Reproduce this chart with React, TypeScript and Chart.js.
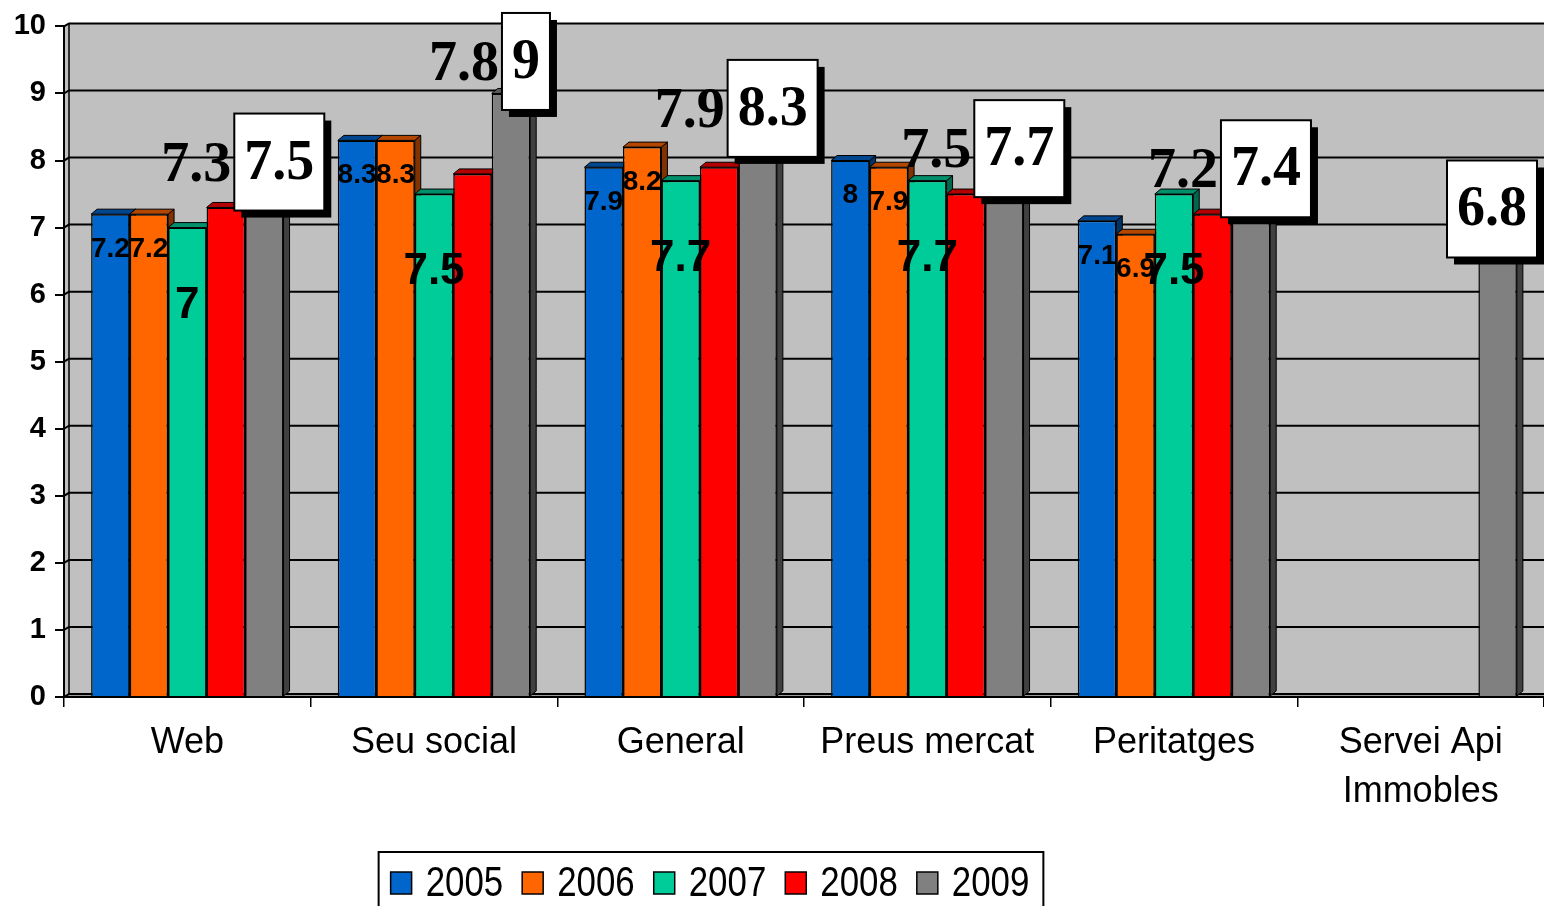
import React, { useEffect, useRef } from "react";
import { Chart, registerables } from "chart.js";

Chart.register(...registerables);

// ---------- data ----------
const categories: (string | string[])[] = [
  "Web",
  "Seu social",
  "General",
  "Preus mercat",
  "Peritatges",
  ["Servei Api", "Immobles"],
];
const years = ["2005", "2006", "2007", "2008", "2009"];
const values2005 = [7.2, 8.3, 7.9, 8, 7.1, null];
const values2006 = [7.2, 8.3, 8.2, 7.9, 6.9, null];
const values2007 = [7, 7.5, 7.7, 7.7, 7.5, null];
const values2008 = [7.3, 7.8, 7.9, 7.5, 7.2, null];
const values2009 = [7.5, 9, 8.3, 7.7, 7.4, 6.8];
const yMin = 0;
const yMax = 10;
const yStep = 1;

// ---------- styles ----------
const colors = ["#0066CC", "#FF6600", "#00CC99", "#FF0000", "#808080"];
const W = 1544;
const H = 906;
const SANS = "'Liberation Sans', Arial, sans-serif";
const SERIF = "'Liberation Serif', 'Times New Roman', serif";
const LEGEND_FONT = "42px 'Liberation Sans', Arial, sans-serif";
const LEGEND_SX = 0.83;
const BAR_DX = 6;
const BAR_DY = 5;
const WALL_DX = 5;
const WALL_DY = 3;

function shade(hex: string, f: number) {
  const n = parseInt(hex.slice(1), 16);
  const r = Math.round(((n >> 16) & 255) * f);
  const g = Math.round(((n >> 8) & 255) * f);
  const b = Math.round((n & 255) * f);
  return `rgb(${r},${g},${b})`;
}

const wallPlugin = {
  id: "wall3d",
  beforeDraw(chart: any) {
    const { ctx, chartArea } = chart;
    const { left, right, top, bottom } = chartArea;
    const ys = chart.scales.y;
    ctx.save();
    ctx.fillStyle = "#C0C0C0";
    ctx.beginPath();
    ctx.moveTo(left, bottom);
    ctx.lineTo(left, top);
    ctx.lineTo(left + WALL_DX, top - WALL_DY);
    ctx.lineTo(right, top - WALL_DY);
    ctx.lineTo(right, bottom);
    ctx.closePath();
    ctx.fill();
    // floor
    ctx.fillStyle = "#9a9a9a";
    ctx.beginPath();
    ctx.moveTo(left, bottom);
    ctx.lineTo(left + WALL_DX, bottom - WALL_DY);
    ctx.lineTo(right, bottom - WALL_DY);
    ctx.lineTo(right, bottom);
    ctx.closePath();
    ctx.fill();
    // grid lines on back wall
    ctx.strokeStyle = "#000";
    ctx.lineWidth = 2;
    ys.ticks.forEach((t: any) => {
      const y = ys.getPixelForValue(t.value);
      ctx.beginPath();
      ctx.moveTo(left, y);
      ctx.lineTo(left + WALL_DX, y - WALL_DY);
      ctx.lineTo(right, y - WALL_DY);
      ctx.stroke();
    });
    // wall edge
    ctx.lineWidth = 1.5;
    ctx.beginPath();
    ctx.moveTo(left + WALL_DX, top - WALL_DY);
    ctx.lineTo(left + WALL_DX, bottom - WALL_DY);
    ctx.stroke();
    ctx.restore();
  },
};

const barFacesPlugin = {
  id: "barFaces",
  beforeDatasetsDraw(chart: any) {
    const { ctx } = chart;
    ctx.save();
    ctx.lineWidth = 1;
    ctx.strokeStyle = "#000";
    chart.data.datasets.forEach((ds: any, i: number) => {
      const meta = chart.getDatasetMeta(i);
      meta.data.forEach((el: any, j: number) => {
        if (ds.data[j] == null) return;
        const { x, y, base, width } = el.getProps(["x", "y", "base", "width"], true);
        const l = x - width / 2;
        const r = x + width / 2;
        // side face
        ctx.fillStyle = shade(colors[i], 0.5);
        ctx.beginPath();
        ctx.moveTo(r, y);
        ctx.lineTo(r + BAR_DX, y - BAR_DY);
        ctx.lineTo(r + BAR_DX, base - BAR_DY);
        ctx.lineTo(r, base);
        ctx.closePath();
        ctx.fill();
        ctx.stroke();
        // top face
        ctx.fillStyle = shade(colors[i], 0.7);
        ctx.beginPath();
        ctx.moveTo(l, y);
        ctx.lineTo(l + BAR_DX, y - BAR_DY);
        ctx.lineTo(r + BAR_DX, y - BAR_DY);
        ctx.lineTo(r, y);
        ctx.closePath();
        ctx.fill();
        ctx.stroke();
      });
    });
    ctx.restore();
  },
};

const labelsPlugin = {
  id: "valueLabels",
  afterDraw(chart: any) {
    const { ctx } = chart;
    const n = categories.length;
    ctx.save();
    ctx.fillStyle = "#000";
    ctx.textAlign = "center";
    ctx.textBaseline = "middle";
    for (let j = 0; j < n; j++) {
      const bar = (i: number) => chart.getDatasetMeta(i).data[j];
      const val = (i: number) => chart.data.datasets[i].data[j];
      // 2005 & 2006 small bold labels inside bar
      for (const i of [0, 1]) {
        if (val(i) == null) continue;
        const el = bar(i);
        ctx.font = `bold 28px ${SANS}`;
        ctx.textAlign = "center";
        ctx.fillStyle = "#000";
        ctx.fillText(String(val(i)), el.x, el.y + 35);
      }
      // 2007 large bold label
      if (val(2) != null) {
        const el = bar(2);
        ctx.font = `bold 44px ${SANS}`;
        ctx.textAlign = "center";
        ctx.fillStyle = "#000";
        ctx.fillText(String(val(2)), el.x, el.y + 78);
      }
      // 2009 boxed label
      let boxLeft = 0;
      let cy = 0;
      if (val(4) != null) {
        const el = bar(4);
        ctx.font = `bold 56px ${SERIF}`;
        const txt = String(val(4));
        const tw = ctx.measureText(txt).width;
        const bw = tw + 20;
        const bh = 97;
        let cx = el.x + 15;
        if (cx + bw / 2 + 7 > chart.width) cx = chart.width - 7 - bw / 2;
        cy = el.y - 32;
        boxLeft = cx - bw / 2;
        ctx.fillStyle = "#000";
        ctx.fillRect(boxLeft + 7, cy - bh / 2 + 7, bw, bh);
        ctx.fillStyle = "#fff";
        ctx.fillRect(boxLeft, cy - bh / 2, bw, bh);
        ctx.strokeStyle = "#000";
        ctx.lineWidth = 2;
        ctx.strokeRect(boxLeft, cy - bh / 2, bw, bh);
        ctx.fillStyle = "#000";
        ctx.textAlign = "center";
        ctx.fillText(txt, cx, cy + 2);
      }
      // 2008 serif label left of the 2009 box
      if (val(3) != null) {
        ctx.font = `bold 56px ${SERIF}`;
        ctx.textAlign = "right";
        ctx.fillStyle = "#000";
        ctx.fillText(String(val(3)), boxLeft - 3, cy + 4);
      }
    }
    ctx.restore();
  },
};

const legendPlugin = {
  id: "boxLegend",
  afterDraw(chart: any) {
    const { ctx } = chart;
    ctx.save();
    ctx.font = LEGEND_FONT;
    const sq = 21;
    const gapText = 14;
    const gapItem = 19;
    const widths = chart.data.datasets.map((d: any) => ctx.measureText(d.label).width * LEGEND_SX);
    const total =
      widths.reduce((a: number, w: number) => a + sq + gapText + w, 0) + gapItem * (widths.length - 1);
    const centerX = 710;
    const boxTop = 852;
    let x = centerX - total / 2;
    ctx.strokeStyle = "#000";
    ctx.lineWidth = 2;
    ctx.strokeRect(x - 12, boxTop, total + 26, 90);
    const cy = 883;
    ctx.textBaseline = "middle";
    ctx.textAlign = "left";
    chart.data.datasets.forEach((d: any, i: number) => {
      ctx.fillStyle = colors[i];
      ctx.fillRect(x, cy - 11, sq, 22);
      ctx.strokeStyle = "#000";
      ctx.lineWidth = 1.5;
      ctx.strokeRect(x, cy - 11, sq, 22);
      ctx.fillStyle = "#000";
      ctx.save();
      ctx.translate(x + sq + gapText, cy + 1);
      ctx.scale(LEGEND_SX, 1);
      ctx.fillText(d.label, 0, 0);
      ctx.restore();
      x += sq + gapText + widths[i] + gapItem;
    });
    ctx.restore();
  },
};

export default function App() {
  const ref = useRef<HTMLCanvasElement | null>(null);
  useEffect(() => {
    if (!ref.current) return;
    const series = [values2005, values2006, values2007, values2008, values2009];
    const chart = new Chart(ref.current, {
      type: "bar",
      data: {
        labels: categories as any,
        datasets: years.map((y, i) => ({
          label: y,
          data: series[i] as any,
          backgroundColor: colors[i],
          borderColor: "#000",
          borderWidth: 1.5,
          categoryPercentage: 0.78,
          barPercentage: 1,
        })),
      },
      options: {
        responsive: false,
        animation: false,
        devicePixelRatio: 1,
        layout: { padding: { top: 22, right: 0, left: 0, bottom: 59 } },
        plugins: {
          legend: { display: false },
          tooltip: { enabled: false },
          title: { display: false },
        },
        scales: {
          x: {
            offset: true,
            border: { display: true, color: "#000", width: 2 },
            grid: {
              offset: true,
              drawOnChartArea: false,
              drawTicks: true,
              tickLength: 10,
              color: "#000",
              lineWidth: 1.5,
            },
            ticks: {
              color: "#000",
              font: { family: SANS, size: 36, lineHeight: 1.35 },
              padding: 12,
              maxRotation: 0,
              autoSkip: false,
            },
            afterFit: (s: any) => {
              s.height = 150;
            },
          },
          y: {
            min: yMin,
            max: yMax,
            border: { display: true, color: "#000", width: 2 },
            grid: {
              drawOnChartArea: false,
              drawTicks: true,
              tickLength: 9,
              color: "#000",
              lineWidth: 2,
            },
            ticks: {
              stepSize: yStep,
              color: "#000",
              font: { family: SANS, size: 29, weight: "bold" },
              padding: 9,
            },
            afterFit: (s: any) => {
              s.width = 64;
            },
          },
        },
      },
      plugins: [wallPlugin, barFacesPlugin, labelsPlugin, legendPlugin],
    });
    return () => chart.destroy();
  }, []);
  return (
    <div style={{ position: "fixed", left: 0, top: 0, width: W, height: H, background: "#fff" }}>
      <canvas ref={ref} width={W} height={H} style={{ display: "block", width: W, height: H }} />
    </div>
  );
}
